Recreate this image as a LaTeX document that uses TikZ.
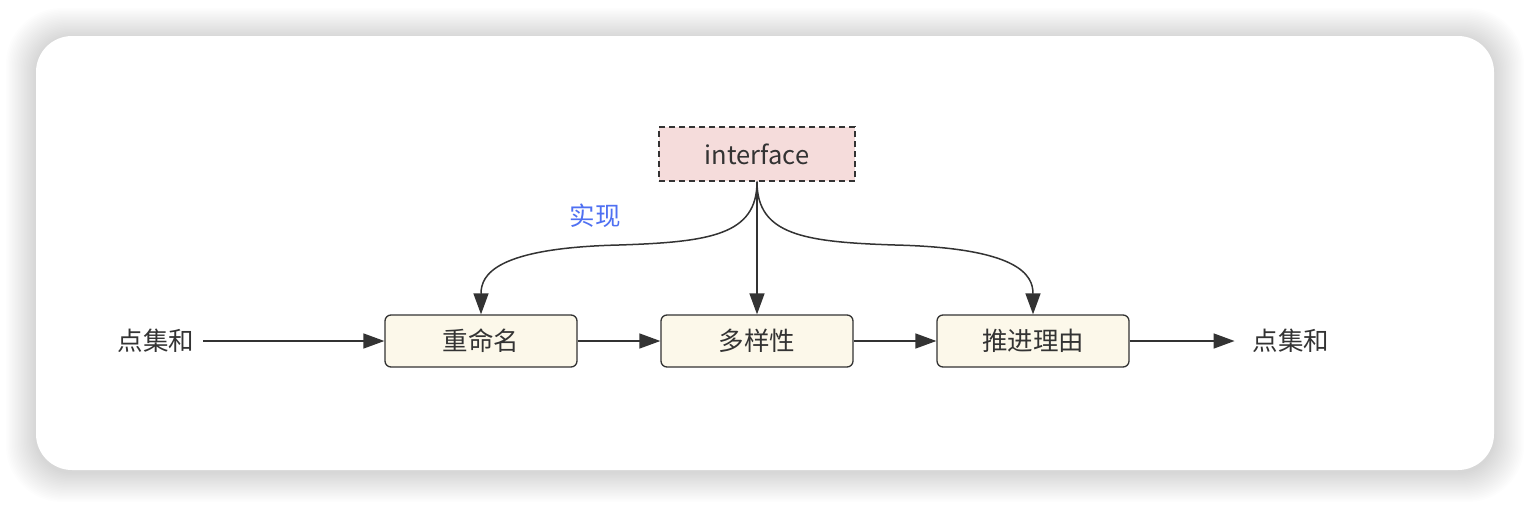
\documentclass[tikz,border=0pt]{standalone}
\usepackage{fontspec}
\setmainfont{Noto Sans CJK SC}
\usetikzlibrary{arrows.meta,calc}
\definecolor{edgec}{HTML}{333333}
\definecolor{stepfill}{HTML}{FCF8EA}
\definecolor{ifacefill}{HTML}{F5DCDB}
\definecolor{labelblue}{HTML}{4F70F2}
\definecolor{txt}{HTML}{333333}
\tikzset{
  stepbox/.style={draw=edgec, line width=1.3pt, fill=stepfill, rounded corners=6pt,
    minimum width=192pt, minimum height=52pt, inner sep=0pt, text=txt,
    font=\fontsize{25.5}{25.5}\selectfont},
  ifacebox/.style={draw=edgec, line width=1.3pt, fill=ifacefill, dash pattern=on 6pt off 4pt,
    minimum width=196pt, minimum height=54pt, inner sep=0pt, text=txt,
    font=\fontsize{25.5}{25.5}\selectfont},
  plain/.style={text=txt, inner sep=0pt, font=\fontsize{25.5}{25.5}\selectfont},
  conn/.style={draw=edgec, line width=1.5pt, -{Triangle[length=21pt,width=15pt]}},
}
\begin{document}
\begin{tikzpicture}[x=1pt,y=-1pt]
\useasboundingbox (0,0) rectangle (1530,506);
\fill[white] (0,0) rectangle (1530,506);
% shadow
\foreach \i in {1,...,20}{
  \fill[black, opacity=0.008, rounded corners={36+\i}] (36-1.5*\i,36-1.5*\i+2) rectangle (1494+1.5*\i,470+1.5*\i+2);
}
\fill[white, rounded corners=36pt] (36,36) rectangle (1494,470);

\node[ifacebox] (iface) at (757,154) {interface};
\node[stepbox] (s1) at (481,341) {重命名};
\node[stepbox] (s2) at (757,341) {多样性};
\node[stepbox] (s3) at (1033,341) {推进理由};
\node[plain] (in) at (156,341) {点集和};
\node[plain] (out) at (1291,341) {点集和};
\node[plain, text=labelblue] (lbl) at (595,216) {实现};

\coordinate (instart) at ($(in.east)+(9,0)$);
\coordinate (outtip) at ($(out.west)+(-18,0)$);
\draw[conn] (instart) -- (s1.west);
\draw[conn] (s1.east) -- (s2.west);
\draw[conn] (s2.east) -- (s3.west);
\draw[conn] (s3.east) -- (outtip);

\draw[conn] (iface.south) .. controls (757,235) and (710,242) .. (619,245) .. controls (495,248) and (481,275) .. (s1.north);
\draw[conn] (iface.south) -- (s2.north);
\draw[conn] (iface.south) .. controls (757,235) and (804,242) .. (895,245) .. controls (1019,248) and (1033,275) .. (s3.north);
\end{tikzpicture}
\end{document}
